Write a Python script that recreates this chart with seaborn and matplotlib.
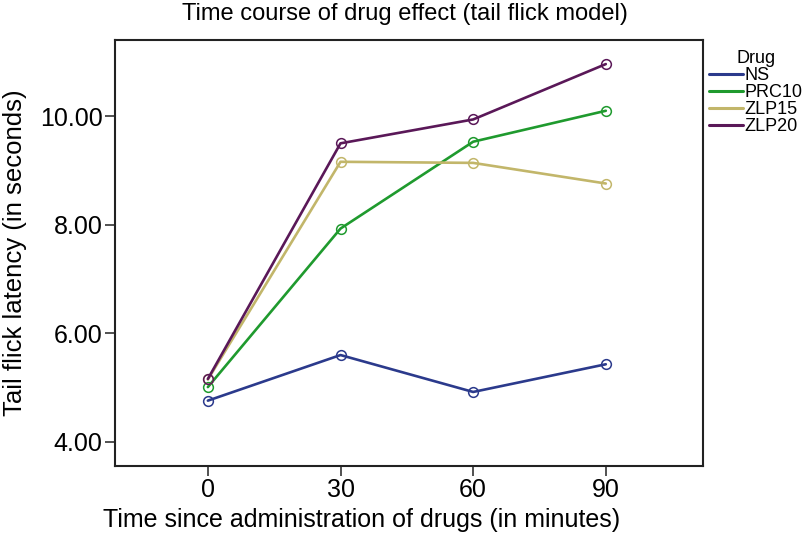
import pandas as pd
import seaborn as sns
import matplotlib.pyplot as plt
from matplotlib.lines import Line2D

times = [0, 30, 60, 90]
drugs = ['NS', 'PRC10', 'ZLP15', 'ZLP20']
ns = [4.76, 5.60, 4.92, 5.43]
prc10 = [5.01, 7.93, 9.53, 10.10]
zlp15 = [5.15, 9.16, 9.14, 8.76]
zlp20 = [5.16, 9.50, 9.94, 10.96]
colors = ['#2b3a8c', '#1f9a2e', '#c2b66a', '#5a1858']


def build_frame():
    rows = []
    for drug, vals in zip(drugs, [ns, prc10, zlp15, zlp20]):
        for t, v in zip(times, vals):
            rows.append({'Time': t, 'Latency': v, 'Drug': drug})
    return pd.DataFrame(rows)


def main():
    sns.set_style('white')
    plt.rcParams['font.family'] = ['Liberation Sans', 'DejaVu Sans']
    plt.rcParams['text.color'] = 'black'
    plt.rcParams['xtick.color'] = 'black'
    plt.rcParams['ytick.color'] = 'black'
    plt.rcParams['axes.labelcolor'] = 'black'

    df = build_frame()
    fig = plt.figure(figsize=(8.1, 5.36), dpi=100)
    ax = fig.add_axes([0.142, 0.131, 0.726, 0.794])

    palette = dict(zip(drugs, colors))
    sns.lineplot(data=df, x='Time', y='Latency', hue='Drug', palette=palette,
                 marker='o', markersize=7, linewidth=1.9, legend=False, ax=ax)
    for line in ax.lines:
        line.set_markerfacecolor('none')
        line.set_markeredgecolor(line.get_color())
        line.set_markeredgewidth(1.1)

    ax.set_xlim(-21, 112)
    ax.set_ylim(3.56, 11.4)
    ax.set_xticks(times)
    ax.set_yticks([4, 6, 8, 10])
    ax.set_yticklabels(['4.00', '6.00', '8.00', '10.00'])
    ax.tick_params(axis='both', labelsize=18, length=7, width=1.2, color='#333333',
                   direction='out', left=True, bottom=True, pad=2)
    for side in ['left', 'right', 'top', 'bottom']:
        ax.spines[side].set_visible(True)
        ax.spines[side].set_color('#222222')
        ax.spines[side].set_linewidth(1.5)

    ax.set_xlabel('Time since administration of drugs (in minutes)', fontsize=18)
    ax.xaxis.set_label_coords(0.42, -0.1)
    ax.set_ylabel('Tail flick latency (in seconds)', fontsize=18.5, labelpad=9)
    fig.suptitle('Time course of drug effect (tail flick model)', fontsize=17, y=0.995)

    handles = [Line2D([0], [0], color=c, linewidth=2.2) for c in colors]
    fig.legend(handles, drugs, title='Drug', loc='upper left', bbox_to_anchor=(0.866, 0.92),
               frameon=False, fontsize=13, title_fontsize=13, handlelength=1.9,
               handletextpad=0.1, labelspacing=0.0, borderaxespad=0)

    plt.savefig('out.png', dpi=100)


if __name__ == '__main__':
    main()
